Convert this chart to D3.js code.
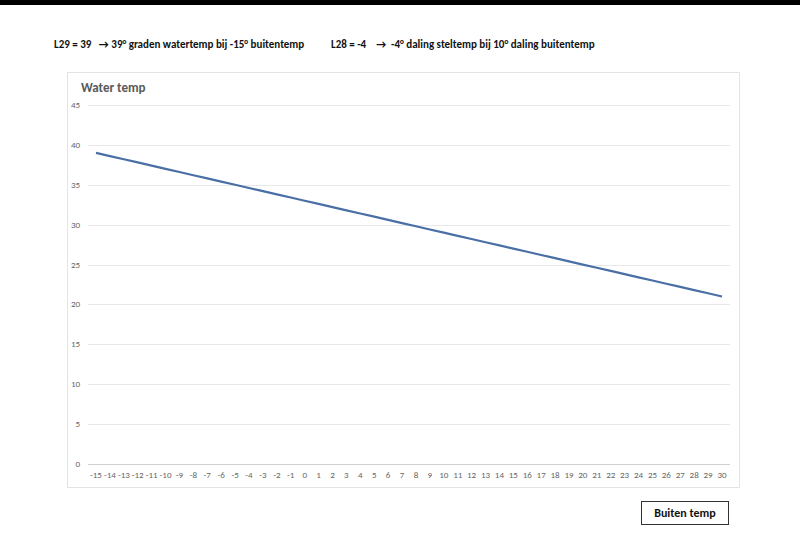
<!DOCTYPE html>
<html>
<head>
<meta charset="utf-8">
<script src="https://cdn.jsdelivr.net/npm/d3@7"></script>
<style>
body { margin: 0; background: #fff; font-family: Calibri, Carlito, "Open Sans", sans-serif; }
</style>
</head>
<body>
<svg id="chart" width="800" height="556"></svg>
<script>
// data
const buitenTemp = [-15,-14,-13,-12,-11,-10,-9,-8,-7,-6,-5,-4,-3,-2,-1,0,1,2,3,4,5,6,7,8,9,10,11,12,13,14,15,16,17,18,19,20,21,22,23,24,25,26,27,28,29,30]
const waterTemp = [39,38.6,38.2,37.8,37.4,37,36.6,36.2,35.8,35.4,35,34.6,34.2,33.8,33.4,33,32.6,32.2,31.8,31.4,31,30.6,30.2,29.8,29.4,29,28.6,28.2,27.8,27.4,27,26.6,26.2,25.8,25.4,25,24.6,24.2,23.8,23.4,23,22.6,22.2,21.8,21.4,21]
const yTicks = [0,5,10,15,20,25,30,35,40,45]

const svg = d3.select("#chart")

//black bar on top
svg.append("rect").attr("x", 0).attr("y", 0).attr("width", 800).attr("height", 5).attr("fill", "#000")

//header text
svg.append("text").attr("x", 54).attr("y", 48).attr("font-size", 11).attr("font-weight", "bold").attr("fill", "#111")
    .attr("xml:space", "preserve")
    .text("L29 = 39   \u2192 39° graden watertemp bij -15° buitentemp")
svg.append("text").attr("x", 331).attr("y", 48).attr("font-size", 11).attr("font-weight", "bold").attr("fill", "#111")
    .attr("xml:space", "preserve")
    .text("L28 = -4    \u2192  -4° daling steltemp bij 10° daling buitentemp")

//chart box
svg.append("rect").attr("x", 67.5).attr("y", 72.5).attr("width", 672).attr("height", 415)
    .attr("fill", "#fff").attr("stroke", "#e3e3e3")

svg.append("text").attr("x", 81).attr("y", 92).attr("font-size", 13).attr("font-weight", "bold").attr("fill", "#595959")
    .text("Water temp")

const x = d3.scalePoint().domain(buitenTemp).range([96, 722])
const y = d3.scaleLinear().domain([0, 45]).range([464, 105])

//gridlines
svg.append("g").selectAll("line").data(yTicks).join("line")
    .attr("x1", 88).attr("x2", 730)
    .attr("y1", d => Math.round(y(d)) + 0.5).attr("y2", d => Math.round(y(d)) + 0.5)
    .attr("stroke", d => d == 0 ? "#d0d0d0" : "#e8e8e8")

svg.append("g").selectAll("text").data(yTicks).join("text")
    .attr("x", 80).attr("y", d => y(d) + 3)
    .attr("text-anchor", "end").attr("font-size", 9).attr("fill", "#666")
    .text(d => d)

svg.append("g").selectAll("text").data(buitenTemp).join("text")
    .attr("x", d => x(d)).attr("y", 478)
    .attr("text-anchor", "middle").attr("font-size", 9).attr("fill", "#666")
    .text(d => d)

//line
const line = d3.line().x((d, i) => x(buitenTemp[i])).y(d => y(d))
svg.append("path").datum(waterTemp).attr("d", line)
    .attr("fill", "none").attr("stroke", "#4a6fa5").attr("stroke-width", 2.2)

//axis title box
svg.append("rect").attr("x", 641.5).attr("y", 501.5).attr("width", 87).attr("height", 23)
    .attr("fill", "#fff").attr("stroke", "#333")
svg.append("text").attr("x", 685).attr("y", 517).attr("text-anchor", "middle")
    .attr("font-size", 12).attr("font-weight", "bold").attr("fill", "#111").text("Buiten temp")
</script>
</body>
</html>
